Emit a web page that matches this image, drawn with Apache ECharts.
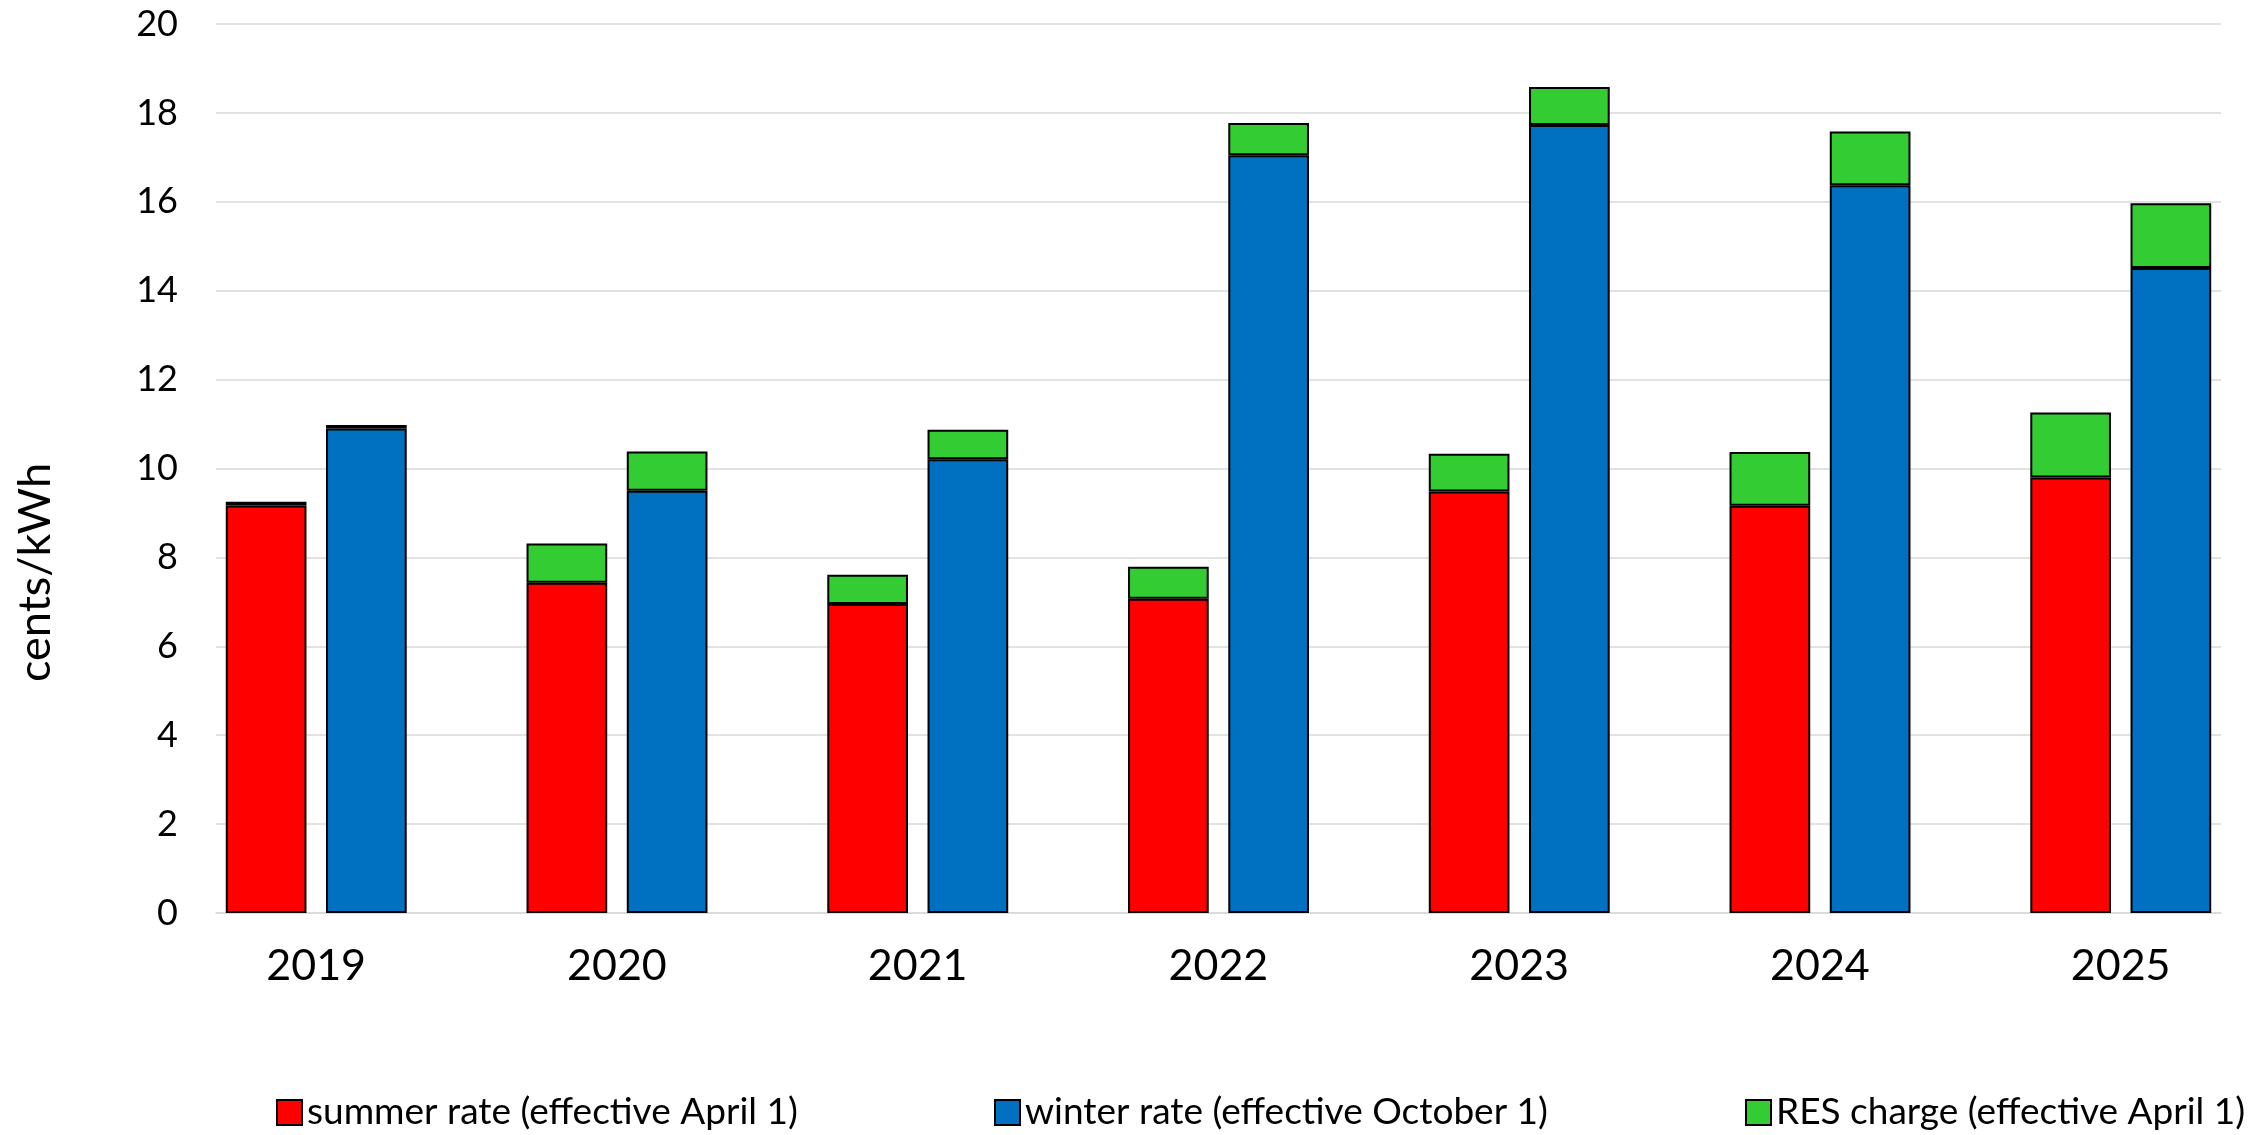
<!DOCTYPE html>
<html>
<head>
<meta charset="utf-8">
<script src="https://cdn.jsdelivr.net/npm/echarts@6/dist/echarts.min.js"></script>
<style>
  html, body { margin: 0; padding: 0; background: #ffffff; }
  #chart { width: 2261px; height: 1135px; }
</style>
</head>
<body>
<div id="chart"></div>
<script>
// ---- data ----
const years = ['2019', '2020', '2021', '2022', '2023', '2024', '2025'];
const summerRate = [9.17, 7.43, 6.95, 7.07, 9.48, 9.16, 9.80];
const winterRate = [10.90, 9.50, 10.21, 17.05, 17.73, 16.37, 14.51];
const resCharge = [0.08, 0.88, 0.66, 0.72, 0.85, 1.21, 1.46];
const yTicks = [0, 2, 4, 6, 8, 10, 12, 14, 16, 18, 20];
const seriesNames = [
  'summer rate (effective April 1)',
  'winter rate (effective October 1)',
  'RES charge (effective April 1)'
];
const yAxisTitle = 'cents/kWh';

// ---- build slots: summer, winter, gap per year (no trailing gap) ----
const slots = [];
const slotYear = [];
const summerData = [];
const winterData = [];
const resData = [];
years.forEach((y, i) => {
  slots.push('S' + y); slotYear.push(y);
  summerData.push(summerRate[i]); winterData.push('-'); resData.push(resCharge[i]);
  slots.push('W' + y); slotYear.push('');
  summerData.push('-'); winterData.push(winterRate[i]); resData.push(resCharge[i]);
  if (i < years.length - 1) {
    slots.push('G' + y); slotYear.push('');
    summerData.push('-'); winterData.push('-'); resData.push('-');
  }
});

const FONT = 'Lato, "Open Sans", "Noto Sans", sans-serif';
const border = { borderColor: '#000000', borderWidth: 2 };

const chart = echarts.init(document.getElementById('chart'), null, { renderer: 'canvas' });
chart.setOption({
  animation: false,
  backgroundColor: '#ffffff',
  textStyle: { fontFamily: FONT, color: '#000000' },
  grid: { left: 216, right: 40, top: 24, bottom: 222, containLabel: false, outerBoundsMode: 'none' },
  legend: [
    { data: [seriesNames[0]], left: 271, top: 1089 },
    { data: [seriesNames[1]], left: 989, top: 1089 },
    { data: [seriesNames[2]], left: 1740, top: 1089 }
  ].map(l => Object.assign(l, {
    itemWidth: 25, itemHeight: 25, icon: 'rect',
    textStyle: { fontFamily: FONT, fontSize: 37, color: '#000000' }
  })),
  xAxis: {
    type: 'category',
    data: slots,
    axisLine: { show: true, lineStyle: { color: '#d9d9d9', width: 1.5 } },
    axisTick: { show: false },
    axisLabel: {
      interval: 0,
      margin: 32,
      formatter: (v, idx) => slotYear[idx] ? '{y|' + slotYear[idx] + '}' : '',
      rich: {
        y: { fontFamily: FONT, fontSize: 43, color: '#000000', padding: [0, 0, 0, 100] }
      }
    },
    splitLine: { show: false }
  },
  yAxis: {
    type: 'value',
    min: yTicks[0],
    max: yTicks[yTicks.length - 1],
    interval: yTicks[1] - yTicks[0],
    name: yAxisTitle,
    nameLocation: 'middle',
    nameGap: 158,
    nameTextStyle: { fontFamily: FONT, fontSize: 45, color: '#000000', padding: [0, 208, 0, 0] },
    axisLine: { show: false },
    axisTick: { show: false },
    axisLabel: { fontFamily: FONT, fontSize: 36, color: '#000000', margin: 38 },
    splitLine: { lineStyle: { color: '#d9d9d9', width: 1.5 } }
  },
  series: [
    {
      name: seriesNames[0], type: 'bar', stack: 'rate', data: summerData,
      barCategoryGap: '19.5%',
      itemStyle: Object.assign({ color: '#ff0000' }, border)
    },
    {
      name: seriesNames[1], type: 'bar', stack: 'rate', data: winterData,
      barCategoryGap: '19.5%',
      itemStyle: Object.assign({ color: '#0070c0' }, border)
    },
    {
      name: seriesNames[2], type: 'bar', stack: 'rate', data: resData,
      barCategoryGap: '19.5%',
      itemStyle: Object.assign({ color: '#33cc33' }, border)
    }
  ]
});
</script>
</body>
</html>
